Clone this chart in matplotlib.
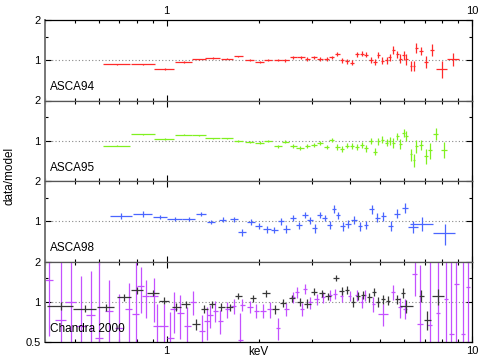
import numpy as np
import matplotlib
matplotlib.use("Agg")
import matplotlib.pyplot as plt
from matplotlib.ticker import NullFormatter, FixedLocator

plt.rcParams['font.family'] = ['Liberation Sans', 'DejaVu Sans']
plt.rcParams['font.size'] = 8

# ASCA94 (energy keV, data/model, half bin width, error)
e94 = [0.69, 0.84, 0.985, 1.14, 1.28, 1.42, 1.58, 1.72,
       1.87, 2.02, 2.15, 2.31, 2.45, 2.60, 2.76, 2.89, 3.04, 3.19, 3.34, 3.47,
       3.62, 3.76, 3.91, 4.05, 4.21, 4.36, 4.50, 4.67, 4.81, 4.94, 5.09, 5.25,
       5.38, 5.53, 5.69, 5.83, 5.98, 6.10, 6.31, 6.45, 6.57, 6.82, 7.07, 7.40,
       7.95, 8.67]
r94 = [0.93, 0.93, 0.86, 0.97, 1.02, 1.04, 1.03, 1.07,
       1.00, 0.97, 1.00, 1.00, 1.00, 1.05, 1.05, 1.02, 1.05, 1.02, 1.02, 1.05,
       1.11, 1.00, 0.98, 0.96, 1.11, 1.12, 1.10, 1.00, 0.97, 1.10, 0.99, 1.00,
       1.05, 1.19, 1.11, 1.03, 1.09, 1.02, 0.91, 0.91, 1.24, 1.17, 0.97, 1.20,
       0.86, 1.02]
xe94 = [0.07, 0.075, 0.074, 0.075, 0.07, 0.08, 0.07, 0.06,
        0.06, 0.07, 0.06, 0.07, 0.07, 0.07, 0.08, 0.06, 0.07, 0.07, 0.07, 0.06,
        0.07, 0.06, 0.06, 0.06, 0.06, 0.06, 0.06, 0.06, 0.06, 0.06, 0.06, 0.06,
        0.06, 0.06, 0.06, 0.06, 0.06, 0.06, 0.06, 0.06, 0.08, 0.10, 0.10, 0.12,
        0.33, 0.38]
ye94 = [0.01, 0.01, 0.01, 0.01, 0.01, 0.01, 0.012, 0.015,
        0.02, 0.02, 0.02, 0.02, 0.025, 0.03, 0.03, 0.03, 0.03, 0.03, 0.03, 0.035,
        0.04, 0.04, 0.04, 0.045, 0.05, 0.05, 0.05, 0.05, 0.05, 0.06, 0.06, 0.06,
        0.07, 0.08, 0.07, 0.08, 0.08, 0.10, 0.08, 0.08, 0.10, 0.08, 0.10, 0.12,
        0.12, 0.12]

# ASCA95
e95 = [0.69, 0.84, 0.985, 1.14, 1.28, 1.42, 1.58, 1.72,
       1.87, 2.02, 2.15, 2.31, 2.45, 2.60, 2.74, 2.89, 3.04, 3.19, 3.34, 3.47,
       3.62, 3.76, 3.91, 4.05, 4.21, 4.36, 4.50, 4.67, 4.81, 4.94, 5.09, 5.25,
       5.38, 5.53, 5.69, 5.83, 5.98, 6.10, 6.31, 6.45, 6.57, 6.80, 7.07, 7.30,
       7.60, 8.10]
r95 = [0.92, 1.115, 1.03, 1.11, 1.10, 1.045, 1.04, 0.99,
       0.98, 0.97, 1.00, 0.91, 0.98, 0.92, 0.89, 0.92, 0.93, 0.96, 0.90, 1.02,
       0.90, 0.87, 0.92, 0.91, 0.90, 0.93, 0.88, 1.00, 0.83, 0.99, 1.02, 0.97,
       1.00, 0.97, 1.08, 0.95, 1.15, 1.09, 0.79, 0.72, 0.91, 0.93, 0.77, 0.85,
       1.13, 0.86]
xe95 = [0.07, 0.075, 0.074, 0.075, 0.07, 0.08, 0.07, 0.06,
        0.06, 0.07, 0.06, 0.07, 0.07, 0.07, 0.08, 0.06, 0.07, 0.07, 0.07, 0.06,
        0.07, 0.06, 0.06, 0.06, 0.06, 0.06, 0.06, 0.06, 0.06, 0.06, 0.06, 0.06,
        0.06, 0.06, 0.06, 0.06, 0.06, 0.06, 0.06, 0.06, 0.08, 0.10, 0.10, 0.12,
        0.15, 0.2]
ye95 = [0.01, 0.01, 0.01, 0.01, 0.01, 0.01, 0.012, 0.015,
        0.02, 0.02, 0.02, 0.02, 0.025, 0.03, 0.03, 0.03, 0.03, 0.03, 0.03, 0.035,
        0.04, 0.04, 0.04, 0.045, 0.05, 0.05, 0.05, 0.05, 0.05, 0.06, 0.06, 0.06,
        0.07, 0.08, 0.07, 0.08, 0.08, 0.10, 0.08, 0.08, 0.10, 0.08, 0.10, 0.12,
        0.12, 0.12]

# ASCA98
e98 = [0.711, 0.837, 0.951, 1.062, 1.183, 1.30, 1.40, 1.53, 1.66, 1.77,
       1.89, 2.00, 2.13, 2.25, 2.37, 2.47, 2.59, 2.71, 2.84, 2.95, 3.06, 3.18,
       3.30, 3.42, 3.53, 3.65, 3.77, 3.93, 4.11, 4.30, 4.50, 4.69, 4.90, 5.12,
       5.41, 5.69, 6.03, 6.40, 6.85, 8.15]
r98 = [1.10, 1.14, 1.08, 1.04, 1.04, 1.13, 0.99, 1.03, 1.035, 0.83,
       0.99, 0.92, 0.87, 0.86, 1.00, 0.88, 1.06, 0.93, 1.12, 1.02, 0.89, 1.11,
       1.06, 0.94, 1.24, 1.11, 0.92, 0.96, 1.03, 0.92, 0.94, 1.23, 1.065, 1.09,
       0.92, 1.14, 1.26, 0.91, 0.96, 0.81]
xe98 = [0.058, 0.06, 0.05, 0.06, 0.06, 0.05, 0.04, 0.04, 0.05, 0.05,
        0.06, 0.05, 0.06, 0.06, 0.06, 0.06, 0.06, 0.06, 0.06, 0.06, 0.06, 0.06,
        0.06, 0.06, 0.06, 0.06, 0.07, 0.08, 0.08, 0.08, 0.08, 0.08, 0.09, 0.1,
        0.12, 0.13, 0.15, 0.25, 0.6, 0.67]
ye98 = [0.06, 0.06, 0.04, 0.03, 0.03, 0.04, 0.04, 0.04, 0.04, 0.05,
        0.05, 0.05, 0.05, 0.05, 0.06, 0.06, 0.06, 0.06, 0.06, 0.06, 0.07, 0.06,
        0.06, 0.07, 0.08, 0.07, 0.07, 0.07, 0.07, 0.07, 0.07, 0.09, 0.08, 0.08,
        0.08, 0.09, 0.1, 0.1, 0.12, 0.15]

# Chandra 2000, first data set (black)
ec1 = [0.45, 0.541, 0.632, 0.726, 0.802, 0.905, 0.98, 1.076, 1.154, 1.25,
       1.33, 1.41, 1.51, 1.61, 1.72, 1.92, 2.12, 2.27, 2.41, 2.57, 2.73, 2.89,
       3.05, 3.22, 3.38, 3.59, 3.75, 3.90, 4.08, 4.24, 4.40, 4.61, 4.77, 4.93,
       5.12, 5.31, 5.69, 5.95, 6.10, 6.83, 7.14, 7.75]
rc1 = [0.93, 0.89, 0.91, 1.08, 1.22, 1.17, 1.02, 0.92, 0.955, 0.68,
       0.88, 0.96, 0.92, 0.91, 1.10, 1.06, 1.16, 0.88, 0.98, 1.06, 1.00, 0.97,
       1.19, 1.16, 1.10, 1.50, 1.21, 1.23, 1.00, 1.11, 1.12, 1.08, 1.18, 1.00,
       1.05, 1.02, 1.05, 1.16, 0.93, 1.11, 0.73, 1.10]
xc1 = [0.043, 0.048, 0.04, 0.04, 0.035, 0.04, 0.035, 0.035, 0.035, 0.035,
       0.035, 0.035, 0.04, 0.04, 0.04, 0.05, 0.06, 0.06, 0.06, 0.06, 0.06, 0.07,
       0.07, 0.07, 0.07, 0.08, 0.07, 0.07, 0.07, 0.07, 0.07, 0.08, 0.08, 0.08,
       0.08, 0.08, 0.1, 0.1, 0.3, 0.12, 0.2, 0.35]
yc1 = [0.06, 0.05, 0.05, 0.06, 0.07, 0.06, 0.06, 0.06, 0.06, 0.06,
       0.06, 0.06, 0.06, 0.06, 0.06, 0.06, 0.07, 0.07, 0.07, 0.07, 0.07, 0.07,
       0.07, 0.07, 0.07, 0.08, 0.08, 0.08, 0.08, 0.08, 0.08, 0.08, 0.08, 0.08,
       0.08, 0.08, 0.08, 0.1, 0.1, 0.12, 0.12, 0.15]

# Chandra 2000, second data set (violet)
ec2 = [0.412, 0.45, 0.486, 0.524, 0.565, 0.601, 0.648, 0.699, 0.753, 0.792,
       0.822, 0.854, 0.909, 0.932, 0.98, 1.03, 1.056, 1.11, 1.169, 1.22,
       1.31, 1.36, 1.39, 1.445, 1.50, 1.58, 1.66, 1.745, 1.77, 1.88, 1.97,
       2.07, 2.18, 2.32, 2.47, 2.60, 2.67, 2.77, 2.84, 2.95, 3.10, 3.26, 3.43,
       3.56, 3.74, 3.98, 4.19, 4.35, 4.46, 4.75, 5.12, 5.52, 5.80, 6.03, 6.50,
       6.75, 7.27, 7.74, 8.24, 8.55, 8.89, 9.35, 9.70]
rc2 = [1.45, 0.73, 1.00, 0.66, 0.80, 0.54, 0.86, 0.64, 0.88, 0.81,
       1.32, 1.11, 1.11, 0.66, 0.66, 0.54, 0.88, 0.83, 0.66, 1.00,
       0.60, 0.72, 0.79, 0.86, 0.72, 0.88, 0.93, 0.52, 0.95, 0.92, 0.86,
       0.86, 0.88, 0.64, 0.88, 1.08, 1.18, 0.88, 1.25, 0.99, 1.05, 1.08, 1.12,
       1.14, 1.10, 1.11, 1.12, 1.00, 1.12, 0.96, 0.81, 1.18, 0.91, 0.89, 1.61,
       0.68, 0.67, 0.83, 1.05, 0.57, 1.36, 0.57, 1.30]
xc2 = [0.012, 0.02, 0.02, 0.02, 0.02, 0.02, 0.02, 0.02, 0.02, 0.02,
       0.02, 0.02, 0.03, 0.03, 0.03, 0.03, 0.03, 0.03, 0.03, 0.03,
       0.03, 0.03, 0.03, 0.03, 0.03, 0.03, 0.03, 0.03, 0.03, 0.04, 0.04,
       0.04, 0.04, 0.04, 0.04, 0.04, 0.04, 0.04, 0.04, 0.04, 0.05, 0.05, 0.05,
       0.05, 0.05, 0.05, 0.05, 0.05, 0.05, 0.06, 0.2, 0.08, 0.08, 0.1, 0.12,
       0.15, 0.15, 0.12, 0.12, 0.15, 0.15, 0.15, 0.15]
yc2 = [0.9, 1.3, 1.2, 0.9, 0.9, 1.5, 0.6, 0.5, 0.5, 1.3,
       0.5, 0.35, 0.4, 0.3, 0.3, 0.3, 0.3, 0.3, 0.25, 0.2,
       0.2, 0.2, 0.15, 0.15, 0.15, 0.12, 0.12, 0.3, 0.1, 0.1, 0.1,
       0.1, 0.12, 0.12, 0.1, 0.1, 0.12, 0.1, 0.1, 0.1, 0.1, 0.1, 0.1,
       0.1, 0.1, 0.1, 0.1, 0.1, 0.1, 0.12, 0.15, 0.15, 0.15, 0.15, 0.5,
       1.2, 1.3, 1.3, 1.5, 1.5, 1.5, 1.5, 1.5]

panels = [
    ("ASCA94", [(e94, r94, xe94, ye94, "#ff2a2a")]),
    ("ASCA95", [(e95, r95, xe95, ye95, "#80f020")]),
    ("ASCA98", [(e98, r98, xe98, ye98, "#4a66ff")]),
    ("Chandra 2000", [(ec2, rc2, xc2, yc2, "#c450ff"),
                      (ec1, rc1, xc1, yc1, "#383838")]),
]

fig = plt.figure(figsize=(4.85, 3.62), dpi=100)
left, width = 45 / 485, 427 / 485
top = 1 - 20 / 362
h = (322 / 4) / 362

for i, (name, sets) in enumerate(panels):
    ax = fig.add_axes([left, top - (i + 1) * h, width, h])
    for e, r, xe, ye, c in sets:
        ax.errorbar(e, r, xerr=xe, yerr=ye, fmt='none', ecolor=c,
                    elinewidth=0.9, capsize=0)
    ax.axhline(1.0, color='#888888', ls=(0, (1, 2)), lw=0.8, zorder=0)
    ax.set_xscale('log')
    ax.set_yscale('log')
    ax.set_xlim(0.4, 10)
    ax.set_ylim(0.5, 2)
    ax.set_xticks([1, 10])
    ax.set_xticklabels(['1', '10'])
    if i == 3:
        ax.set_yticks([0.5, 1, 2])
        ax.set_yticklabels(['0.5', '1', '2'])
    else:
        ax.set_yticks([1, 2])
        ax.set_yticklabels(['1', '2'])
    ax.yaxis.set_minor_locator(FixedLocator([1.5]))
    ax.yaxis.set_minor_formatter(NullFormatter())
    ax.xaxis.set_minor_formatter(NullFormatter())
    ax.tick_params(which='both', direction='in', top=True, right=True,
                   labelbottom=(i == 3), labeltop=(i == 0),
                   labelsize=8, pad=3, width=0.8)
    ax.tick_params(which='major', length=4)
    ax.tick_params(which='minor', length=2.5)
    for s in ['left', 'right', 'top', 'bottom']:
        ax.spines[s].set_linewidth(0.9)
    ax.spines['left'].set_color('#777777')
    ax.spines['left'].set_linewidth(1.4)
    if i > 0:
        ax.spines['top'].set_color('#555555')
    if i < 3:
        ax.spines['bottom'].set_color('#555555')
    ax.text(0.012, 0.13, name, transform=ax.transAxes, fontsize=8.5,
            va='baseline', ha='left')
    if i == 3:
        ax.set_xlabel('keV', fontsize=8.5, labelpad=-7)

fig.text(0.02, 0.515, 'data/model', rotation=90, ha='center', va='center',
         fontsize=8.5)

fig.savefig('out.png', dpi=100)
